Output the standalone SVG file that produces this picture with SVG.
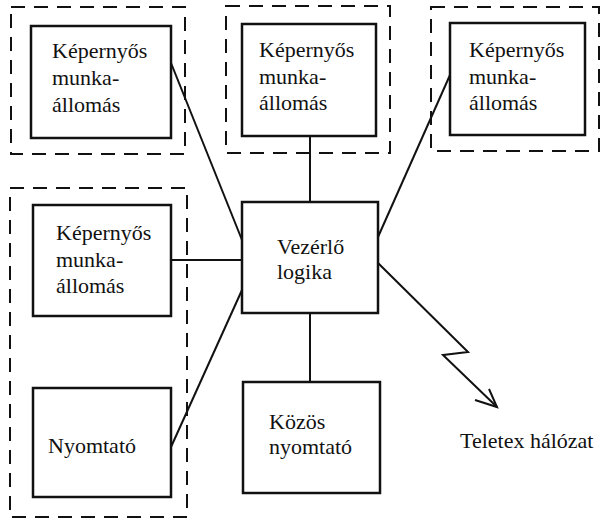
<svg xmlns="http://www.w3.org/2000/svg" width="601" height="521" viewBox="0 0 601 521">
  <style>
    .box { fill: #fff; stroke: #111; stroke-width: 2.5; }
    .group { fill: none; stroke: #111; stroke-width: 2; stroke-dasharray: 14 9; }
    .wire { fill: none; stroke: #111; stroke-width: 2; }
    text { font-family: "Liberation Serif", "Times New Roman", serif; font-size: 22px; fill: #111; }
  </style>
  <rect width="601" height="521" fill="#fff"/>

  <!-- dashed groupings -->
  <g id="groups">
    <rect class="group" x="11" y="7" width="174" height="147"/>
    <rect class="group" x="226" y="6" width="164" height="147"/>
    <rect class="group" x="431" y="7" width="168" height="144"/>
    <rect class="group" x="10" y="188" width="177" height="329"/>
  </g>

  <!-- connectors -->
  <g id="connectors">
    <line class="wire" x1="171" y1="63" x2="242" y2="240"/>
    <line class="wire" x1="310" y1="136" x2="310" y2="202"/>
    <line class="wire" x1="450" y1="75" x2="378" y2="237"/>
    <line class="wire" x1="171" y1="260" x2="242" y2="260"/>
    <line class="wire" x1="171" y1="447" x2="242" y2="290"/>
    <line class="wire" x1="310" y1="313" x2="310" y2="382"/>
    <polyline class="wire" points="378,263 468,352 443,355 497,407"/>
    <polyline class="wire" points="475,400 497,407 489,389"/>
  </g>

  <g id="ws1">
    <rect class="box" x="31" y="26" width="140" height="112"/>
    <text x="52" y="58">Képernyős</text>
    <text x="52" y="85">munka-</text>
    <text x="52" y="112">állomás</text>
  </g>
  <g id="ws2">
    <rect class="box" x="242" y="24" width="134" height="112"/>
    <text x="259" y="57">Képernyős</text>
    <text x="259" y="84">munka-</text>
    <text x="259" y="110">állomás</text>
  </g>
  <g id="ws3">
    <rect class="box" x="450" y="23" width="135" height="112"/>
    <text x="469" y="57">Képernyős</text>
    <text x="469" y="84">munka-</text>
    <text x="469" y="110">állomás</text>
  </g>
  <g id="ws4">
    <rect class="box" x="33" y="205" width="138" height="111"/>
    <text x="56" y="240">Képernyős</text>
    <text x="56" y="267">munka-</text>
    <text x="56" y="293">állomás</text>
  </g>
  <g id="printer">
    <rect class="box" x="33" y="388" width="138" height="109"/>
    <text x="48" y="453">Nyomtató</text>
  </g>
  <g id="control">
    <rect class="box" x="242" y="202" width="136" height="111"/>
    <text x="277" y="254">Vezérlő</text>
    <text x="277" y="279">logika</text>
  </g>
  <g id="shared-printer">
    <rect class="box" x="243" y="382" width="137" height="111"/>
    <text x="269" y="429">Közös</text>
    <text x="269" y="454">nyomtató</text>
  </g>
  <g id="network">
    <text x="460" y="448">Teletex hálózat</text>
  </g>
</svg>
